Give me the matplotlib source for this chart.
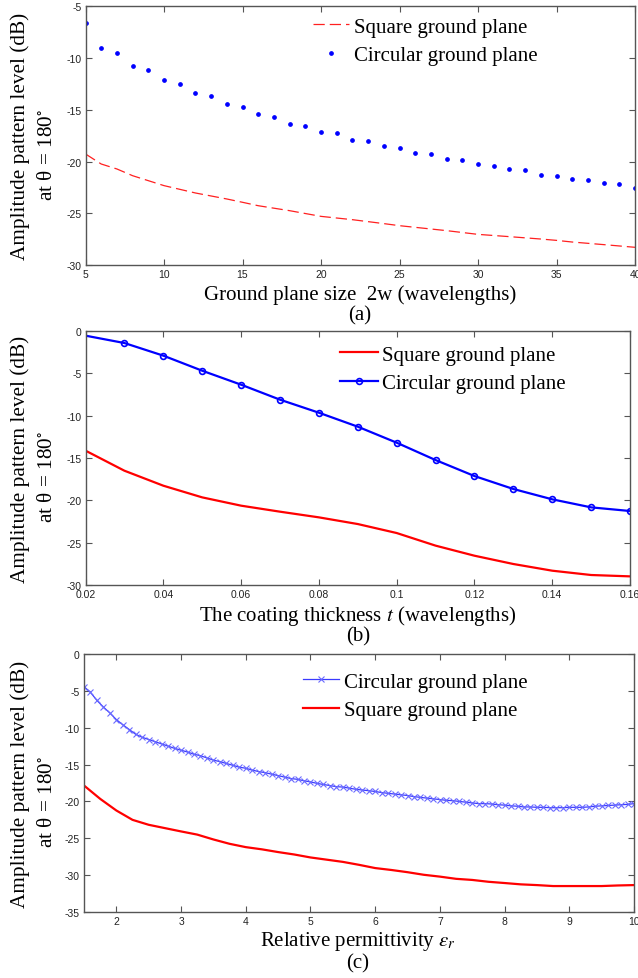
import numpy as np
import matplotlib
matplotlib.use("Agg")
import matplotlib.pyplot as plt
from matplotlib.ticker import FuncFormatter

plt.rcParams['font.family'] = ['Liberation Serif', 'DejaVu Serif']
plt.rcParams['mathtext.fontset'] = 'stix'
plt.rcParams['axes.unicode_minus'] = False

# ---------------- data (a) ----------------
a_circ_x = list(range(5, 41))
a_circ_y = [-6.64, -9.06, -9.48, -10.73, -11.15, -12.15, -12.54, -13.38, -13.70, -14.47,
            -14.73, -15.41, -15.66, -16.37, -16.53, -17.11, -17.27, -17.89, -17.98, -18.47,
            -18.66, -19.14, -19.24, -19.76, -19.85, -20.24, -20.40, -20.75, -20.85, -21.27,
            -21.37, -21.69, -21.78, -22.11, -22.20, -22.56]
a_sq_x = [5, 6, 7, 8, 9, 10, 12, 14, 15, 16, 18, 20, 22, 24, 25, 26, 28, 30, 32, 34, 35, 36, 38, 40]
a_sq_y = [-19.27, -20.24, -20.72, -21.37, -21.85, -22.33, -23.04, -23.62, -23.94, -24.27,
          -24.75, -25.30, -25.62, -26.00, -26.20, -26.36, -26.68, -27.04, -27.26, -27.49,
          -27.62, -27.78, -28.03, -28.29]

# ---------------- data (b) ----------------
b_x = [0.02, 0.03, 0.04, 0.05, 0.06, 0.07, 0.08, 0.09, 0.10, 0.11, 0.12, 0.13, 0.14, 0.15, 0.16]
b_circ_y = [-0.55, -1.42, -2.91, -4.69, -6.34, -8.11, -9.65, -11.30, -13.19, -15.24,
            -17.13, -18.66, -19.88, -20.83, -21.26]
b_sq_y = [-14.13, -16.50, -18.27, -19.65, -20.63, -21.34, -22.01, -22.80, -23.86, -25.35,
          -26.54, -27.52, -28.31, -28.82, -28.98]

# ---------------- data (c) ----------------
c_circ_x = [round(1.5 + 0.1 * i, 1) for i in range(86)]
c_circ_y = [-4.43, -5.2, -6.3, -7.2, -8.0, -8.9, -9.6, -10.25, -10.9, -11.3,
            -11.6, -11.9, -12.2, -12.5, -12.8, -13.05, -13.3, -13.6, -13.8, -14.1,
            -14.4, -14.6, -14.85, -15.1, -15.35, -15.5, -15.75, -15.95, -16.1, -16.3,
            -16.5, -16.7, -16.9, -17.0, -17.2, -17.35, -17.55, -17.7, -17.85, -18.0,
            -18.05, -18.2, -18.35, -18.45, -18.55, -18.65, -18.8, -18.9, -19.0, -19.1,
            -19.2, -19.35, -19.45, -19.55, -19.65, -19.75, -19.85, -19.9, -20.0, -20.1,
            -20.2, -20.3, -20.3, -20.35, -20.45, -20.5, -20.6, -20.65, -20.75, -20.75,
            -20.8, -20.8, -20.85, -20.85, -20.85, -20.8, -20.8, -20.8, -20.75, -20.65,
            -20.6, -20.55, -20.5, -20.45, -20.4, -20.3]
c_sq_x = [1.5, 1.75, 2.0, 2.25, 2.5, 2.75, 3.0, 3.25, 3.5, 3.75, 4.0, 4.25, 4.5, 4.75, 5.0,
          5.25, 5.5, 5.75, 6.0, 6.25, 6.5, 6.75, 7.0, 7.25, 7.5, 7.75, 8.0, 8.25, 8.5, 8.75,
          9.0, 9.25, 9.5, 9.75, 10.0]
c_sq_y = [-17.84, -19.65, -21.23, -22.5, -23.17, -23.62, -24.07, -24.5, -25.16, -25.75,
          -26.2, -26.5, -26.87, -27.2, -27.6, -27.9, -28.2, -28.6, -29.04, -29.3,
          -29.6, -29.95, -30.2, -30.5, -30.65, -30.9, -31.07, -31.25, -31.35, -31.48,
          -31.48, -31.48, -31.48, -31.4, -31.35]

a_xticks = [5, 10, 15, 20, 25, 30, 35, 40]
a_yticks = [-30, -25, -20, -15, -10, -5]
b_xticks = [0.02, 0.04, 0.06, 0.08, 0.10, 0.12, 0.14, 0.16]
b_yticks = [-30, -25, -20, -15, -10, -5, 0]
c_xticks = [2, 3, 4, 5, 6, 7, 8, 9, 10]
c_yticks = [-35, -30, -25, -20, -15, -10, -5, 0]

W, H = 638, 979
fig = plt.figure(figsize=(W / 100, H / 100), dpi=100)


def fx(px):
    return px / W


def fy(py):
    return 1 - py / H


def make_axes(l, r, t, b):
    ax = fig.add_axes([fx(l), fy(b), fx(r) - fx(l), fy(t) - fy(b)])
    for s in ax.spines.values():
        s.set_color('#555555')
        s.set_linewidth(1.0)
    ax.tick_params(direction='in', top=True, right=True, length=4, width=0.8,
                   color='#555555', labelsize=7.5, pad=3)
    return ax


def style_ticks(ax):
    for lab in ax.get_xticklabels() + ax.get_yticklabels():
        lab.set_family(['Liberation Sans', 'DejaVu Sans'])
        lab.set_color('#222222')


def ylab(top, bot):
    c = (top + bot) / 2
    fig.text(fx(20), fy(c), 'Amplitude pattern level (dB)', rotation=90,
             ha='center', va='center', fontsize=15.3)
    fig.text(fx(47), fy(c + 18), r'at θ = 180$^{\circ}$', rotation=90,
             ha='center', va='center', fontsize=15.3)


FS = 15
LEG = dict(bbox_transform=fig.transFigure, frameon=False, fontsize=FS,
           handletextpad=0.2, labelspacing=0.42, borderpad=0, borderaxespad=0,
           loc='upper left')

# ---------- (a) ----------
axa = make_axes(85.5, 635, 7.3, 266)
axa.plot(a_sq_x, a_sq_y, color='#ff2020', lw=0.9, ls=(0, (9, 4)), label='Square ground plane')
axa.plot(a_circ_x, a_circ_y, ls='none', marker='o', ms=2.4, color='#0000ff', mec='#0000ff',
         label='Circular ground plane')
axa.set_xlim(5, 40)
axa.set_ylim(-30, -5)
axa.set_xticks(a_xticks)
axa.set_yticks(a_yticks)
style_ticks(axa)
axa.legend(bbox_to_anchor=(fx(313), fy(18)), handlelength=1.75, **LEG)
ylab(7.3, 266)
fig.text(fx(360), fy(295), 'Ground plane size  2w (wavelengths)', ha='center', va='center', fontsize=FS)
fig.text(fx(360), fy(316), '(a)', ha='center', va='center', fontsize=FS)

# ---------- (b) ----------
axb = make_axes(85.5, 630, 332, 586)
axb.plot(b_x, b_sq_y, color='#ff0000', lw=1.6, label='Square ground plane')
axb.plot(b_x, b_circ_y, color='#0000ff', lw=1.6, marker='o', ms=4.2, mfc='none', mew=1.2,
         markevery=list(range(1, len(b_x))), label='Circular ground plane')
axb.set_xlim(0.02, 0.16)
axb.set_ylim(-30, 0)
axb.set_xticks(b_xticks)
axb.set_yticks(b_yticks)
axb.xaxis.set_major_formatter(FuncFormatter(lambda v, p: ('%g' % round(v, 4))))
style_ticks(axb)
axb.legend(bbox_to_anchor=(fx(340), fy(346)), handlelength=1.8, **LEG)
ylab(332, 586)
fig.text(fx(358), fy(616), r'The coating thickness $t$ (wavelengths)', ha='center', va='center', fontsize=FS)
fig.text(fx(358), fy(637), '(b)', ha='center', va='center', fontsize=FS)

# ---------- (c) ----------
axc = make_axes(84, 634, 655, 913)
axc.plot(c_circ_x, c_circ_y, color='#3a3aff', lw=0.9, marker='x', ms=4, mew=0.8,
         mec='#6a6aff', label='Circular ground plane')
axc.plot(c_sq_x, c_sq_y, color='#ff0000', lw=1.6, label='Square ground plane')
axc.set_xlim(1.5, 10)
axc.set_ylim(-35, 0)
axc.set_xticks(c_xticks)
axc.set_yticks(c_yticks)
style_ticks(axc)
axc.legend(bbox_to_anchor=(fx(303), fy(673)), handlelength=1.75, **LEG)
ylab(655, 913)
fig.text(fx(358), fy(942), r'Relative permittivity $\varepsilon_r$', ha='center', va='center', fontsize=FS)
fig.text(fx(358), fy(964), '(c)', ha='center', va='center', fontsize=FS)

fig.savefig('out.png', dpi=100)
